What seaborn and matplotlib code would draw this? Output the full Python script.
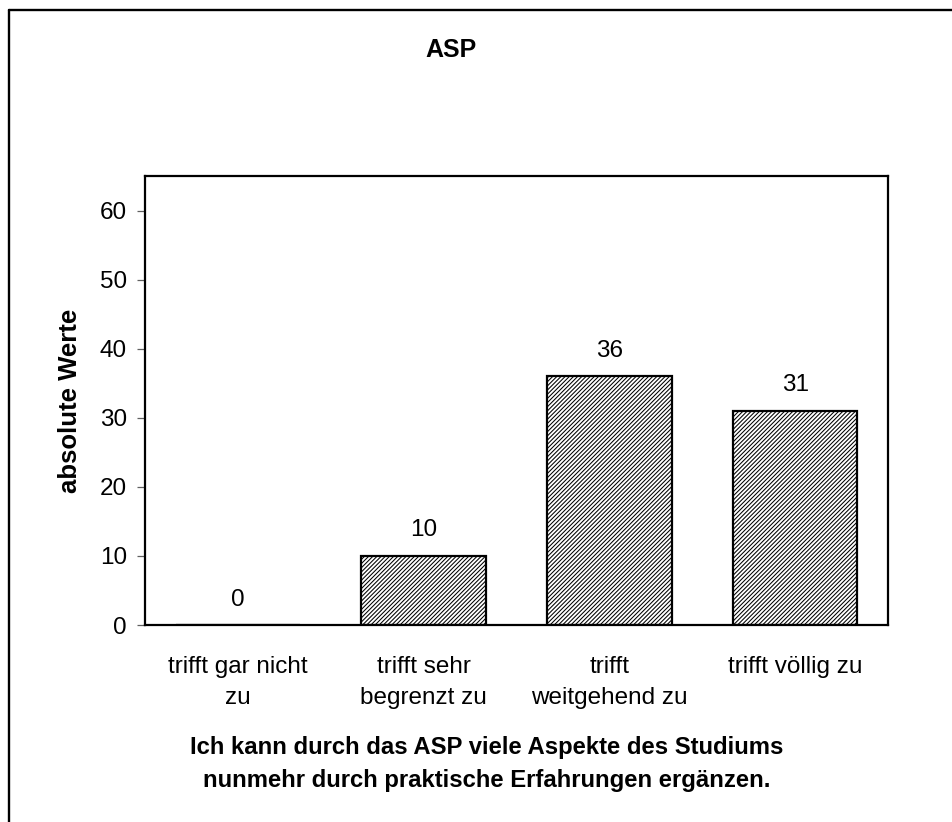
import matplotlib
matplotlib.use("Agg")
import matplotlib.pyplot as plt
from matplotlib.lines import Line2D
import pandas as pd
import seaborn as sns

# Survey answers and absolute counts
categories = [
    "trifft gar nicht\nzu",
    "trifft sehr\nbegrenzt zu",
    "trifft\nweitgehend zu",
    "trifft völlig zu",
]
counts = [0, 10, 36, 31]
y_ticks = [0, 10, 20, 30, 40, 50, 60]

title = "ASP"
y_title = "absolute Werte"
x_title = ("Ich kann durch das ASP viele Aspekte des Studiums\n"
           "nunmehr durch praktische Erfahrungen ergänzen.")

sns.set_theme(style="white")
plt.rcParams["font.family"] = ["Liberation Sans", "DejaVu Sans"]
plt.rcParams["hatch.linewidth"] = 0.75
plt.rcParams["hatch.color"] = "black"

W, H, DPI = 952, 822, 100
fig = plt.figure(figsize=(W / DPI, H / DPI), dpi=DPI, facecolor="white")
ax = fig.add_axes([145 / W, 1 - 625 / H, (888 - 145) / W, (625 - 176) / H])

df = pd.DataFrame({"Antwort": categories, "Anzahl": counts})
sns.barplot(data=df, x="Antwort", y="Anzahl", order=categories, ax=ax,
            color="white", saturation=1, edgecolor="black", linewidth=1.6,
            hatch="////////", width=0.67, errorbar=None)

ax.set_ylim(0, 65)
ax.set_xlim(-0.5, 3.5)
ax.set_yticks(y_ticks)
ax.set_yticklabels([str(v) for v in y_ticks])
ax.tick_params(axis="y", which="major", left=True, length=6, width=0.9,
               color="#606060", pad=7, labelsize=17.5, labelcolor="black")
ax.tick_params(axis="x", which="major", bottom=False, length=0, pad=22.5,
               labelsize=17.5, labelcolor="black")
for lbl in ax.get_xticklabels():
    lbl.set_linespacing(1.5)
for side in ["left", "right", "top", "bottom"]:
    ax.spines[side].set_visible(True)
    ax.spines[side].set_color("black")
    ax.spines[side].set_linewidth(1.6)
ax.grid(False)

# Value labels above every bar
for i, v in enumerate(counts):
    ax.annotate(str(v), xy=(i, v), xytext=(0, 14), textcoords="offset points",
                ha="center", va="baseline", fontsize=17.5, color="black")

ax.set_xlabel("")
ax.set_ylabel(y_title, fontsize=18.5, fontweight="bold", color="black", va="center")
ax.yaxis.set_label_coords((70 - 145) / (888 - 145), 0.5)

fig.text(451 / W, 1 - 50 / H, title, ha="center", va="center",
         fontsize=18, fontweight="bold", color="black")
fig.text(487 / W, 1 - 764 / H, x_title, ha="center", va="center",
         multialignment="center", fontsize=17.2, fontweight="bold",
         color="black", linespacing=1.55)

# Frame around the chart area
fig.add_artist(Line2D([8.5 / W, 8.5 / W], [0, 1 - 10.5 / H],
                      transform=fig.transFigure, color="black", linewidth=1.7))
fig.add_artist(Line2D([8.5 / W, 1], [1 - 10.5 / H, 1 - 10.5 / H],
                      transform=fig.transFigure, color="black", linewidth=1.7))

fig.savefig("out.png", dpi=DPI, facecolor="white")
